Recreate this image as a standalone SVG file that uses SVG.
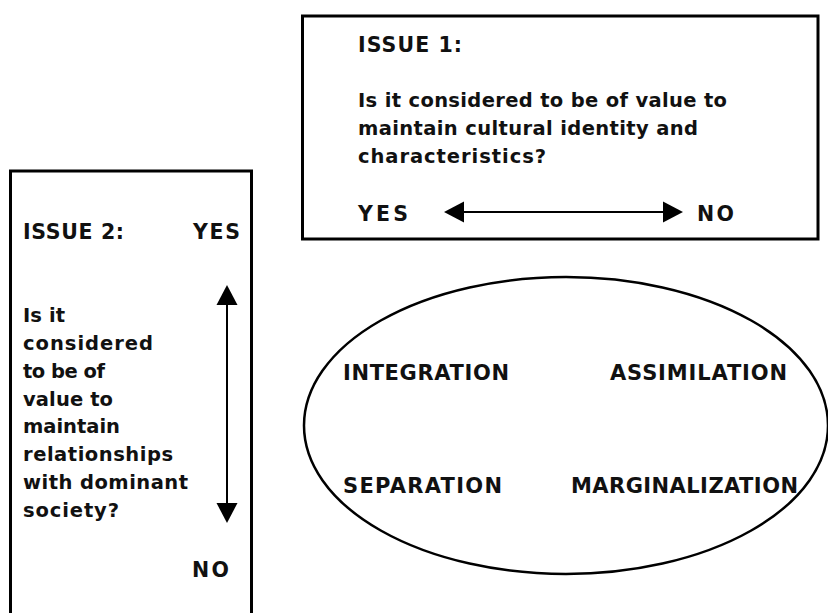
<svg xmlns="http://www.w3.org/2000/svg" width="828" height="613" viewBox="0 0 828 613">
  <style>
    .box { fill: #ffffff; stroke: #000000; stroke-width: 3; }
    .oval { fill: #ffffff; stroke: #000000; stroke-width: 2.5; }
    .t { font-family: "DejaVu Sans", "Liberation Sans", Arial, sans-serif; font-weight: bold; font-size: 19.5px; fill: #111111; }
    .lbl { font-family: "DejaVu Sans", "Liberation Sans", Arial, sans-serif; font-weight: bold; font-size: 20.5px; fill: #111111; }
    .t2 { font-family: "DejaVu Sans", "Liberation Sans", Arial, sans-serif; font-weight: bold; font-size: 21px; fill: #111111; }
    .arrow { stroke: #000000; stroke-width: 2; fill: none; marker-start: url(#head); marker-end: url(#head); }
  </style>
  <defs>
    <marker id="head" markerUnits="userSpaceOnUse" markerWidth="20" markerHeight="21" refX="0" refY="10.5" orient="auto-start-reverse" overflow="visible">
      <path d="M0,0 L20,10.5 L0,21 Z" fill="#000000"/>
    </marker>
  </defs>
  <rect width="828" height="613" fill="#ffffff"/>

  <g id="issue1">
    <rect class="box" x="302.5" y="16" width="515.5" height="223"/>
    <text class="lbl" x="358" y="52" textLength="104" lengthAdjust="spacing">ISSUE 1:</text>
    <text class="t" x="358" y="107" textLength="369" lengthAdjust="spacing">Is it considered to be of value to</text>
    <text class="t" x="358" y="135" textLength="340" lengthAdjust="spacing">maintain cultural identity and</text>
    <text class="t" x="358" y="163" textLength="188" lengthAdjust="spacing">characteristics?</text>
    <text class="lbl" x="358" y="221" textLength="50" lengthAdjust="spacing">YES</text>
    <text class="lbl" x="697" y="221" textLength="37" lengthAdjust="spacing">NO</text>
  </g>

  <g id="issue2">
    <rect class="box" x="10.5" y="171" width="241" height="460"/>
    <text class="lbl" x="23" y="239" textLength="101" lengthAdjust="spacing">ISSUE 2:</text>
    <text class="lbl" x="193" y="239" textLength="47" lengthAdjust="spacing">YES</text>
    <text class="t" x="23" y="322" textLength="42" lengthAdjust="spacing">Is it</text>
    <text class="t" x="23" y="350" textLength="130" lengthAdjust="spacing">considered</text>
    <text class="t" x="23" y="378" textLength="82" lengthAdjust="spacing">to be of</text>
    <text class="t" x="23" y="406" textLength="90" lengthAdjust="spacing">value to</text>
    <text class="t" x="23" y="433" textLength="97" lengthAdjust="spacing">maintain</text>
    <text class="t" x="23" y="461" textLength="150" lengthAdjust="spacing">relationships</text>
    <text class="t" x="23" y="489" textLength="165" lengthAdjust="spacing">with dominant</text>
    <text class="t" x="23" y="517" textLength="96" lengthAdjust="spacing">society?</text>
    <text class="lbl" x="192" y="577" textLength="37" lengthAdjust="spacing">NO</text>
  </g>

  <g id="strategies">
    <ellipse class="oval" cx="566" cy="425.5" rx="262" ry="148.5"/>
    <text class="t2" x="343" y="380" textLength="166" lengthAdjust="spacing">INTEGRATION</text>
    <text class="t2" x="610" y="380" textLength="177" lengthAdjust="spacing">ASSIMILATION</text>
    <text class="t2" x="343" y="493" textLength="159" lengthAdjust="spacing">SEPARATION</text>
    <text class="t2" x="571" y="493" textLength="227" lengthAdjust="spacing">MARGINALIZATION</text>
  </g>

  <g id="connectors">
    <line class="arrow" x1="464" y1="212" x2="663" y2="212"/>
    <line class="arrow" x1="227" y1="305" x2="227" y2="503"/>
  </g>
</svg>
